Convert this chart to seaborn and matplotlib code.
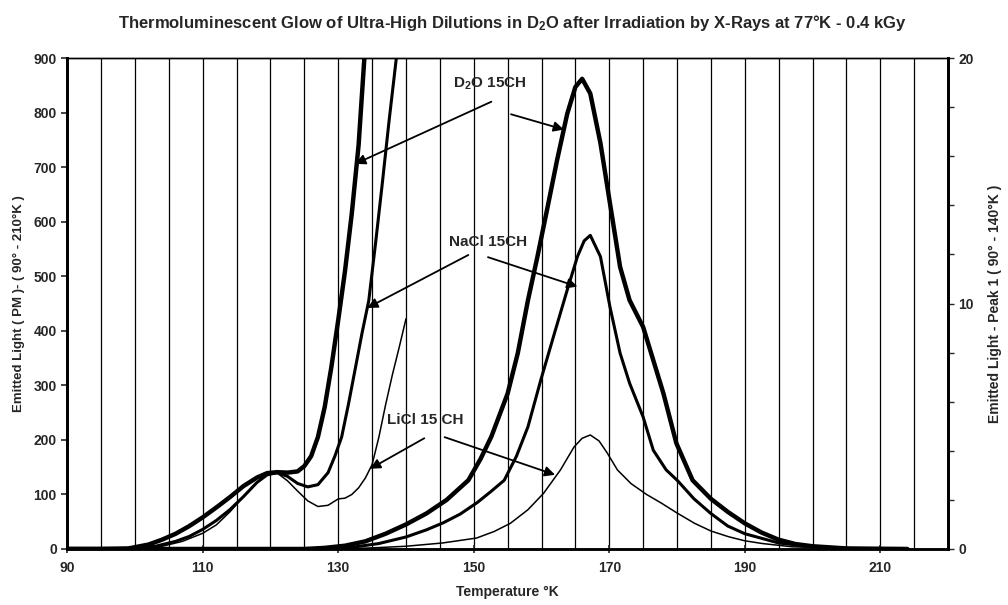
import numpy as np
import pandas as pd
import seaborn as sns
import matplotlib
matplotlib.use("Agg")
import matplotlib.pyplot as plt

# ---------------------------------------------------------------------------
# Data (temperature in K, light in axis units)
# ---------------------------------------------------------------------------
# main glow curves, left axis (90 - 210 K)
d2o_T = [90, 125, 128, 131, 134, 137, 140, 143, 146, 149.2, 151, 152.6, 155, 156.5,
         158, 159.4, 160.9, 162.3, 163.8, 165, 166, 167.2, 168.7, 170.1, 171.6, 173,
         175, 176.5, 178, 179.9, 182.3, 185, 187.5, 190, 192.5, 195, 197.5, 200, 205, 214]
d2o_L = [0, 0, 2, 6, 14, 28, 45, 65, 90, 126, 165, 206, 285, 359,
         456, 536, 627, 713, 798, 847, 862, 835, 744, 634, 517, 456,
         407, 346, 285, 194, 126, 92, 68, 47, 30, 17, 9, 5, 1, 0]

nacl_T = [90, 128, 132, 136, 140, 143, 145.5, 148, 150.5, 152.5, 154.5, 156.3, 158,
          159.9, 161.9, 163.8, 165.3, 166.3, 167.2, 168.7, 170.1, 171.6, 173, 175,
          176.5, 178.4, 180.1, 182.5, 185, 187.5, 190, 195, 200, 205, 214]
nacl_L = [0, 0, 3, 10, 22, 35, 48, 64, 85, 105, 126, 170, 224,
          310, 395, 475, 536, 565, 575, 536, 444, 359, 304, 242,
          181, 145, 125, 92, 65, 42, 28, 11, 4, 1, 0]

licl_T = [90, 130, 135, 140, 145.4, 150.4, 153, 155.4, 158, 160.3, 162.8, 164.8,
          166, 167.2, 168.5, 169.7, 171.2, 173.2, 175.5, 177.7, 180, 182.6, 185,
          187.6, 190, 192.6, 197, 205, 214]
licl_L = [0, 0, 2, 5, 11, 20, 32, 47, 72, 102, 145, 187,
          203, 209, 198, 176, 145, 120, 100, 84, 66, 47, 33,
          22.5, 15, 10, 4, 1, 0]

# peak 1 curves, right axis (90 - 140 K)
p1_d2o_T = [90, 95, 99, 102, 104, 106, 108, 110, 112, 114, 116, 118, 119.5, 121,
            122.5, 124, 125, 126, 127, 128, 129, 130, 131, 132, 133, 134]
p1_d2o_R = [0, 0, 0.02, 0.18, 0.38, 0.62, 0.93, 1.29, 1.69, 2.11, 2.56, 2.91, 3.09, 3.13,
            3.11, 3.16, 3.38, 3.78, 4.56, 5.78, 7.44, 9.33, 11.33, 13.67, 16.44, 20.6]

p1_nacl_T = [90, 96, 100, 103, 106, 108, 110, 112, 114, 116, 118, 119.5, 121, 122.5,
             124, 125.5, 127, 128.5, 129.5, 130.5, 131.5, 132.5, 133.5, 134.5, 135.5,
             136.5, 137.5, 138.7]
p1_nacl_R = [0, 0, 0.02, 0.11, 0.31, 0.51, 0.8, 1.16, 1.6, 2.13, 2.71, 3.02, 3.11, 2.96,
             2.67, 2.53, 2.62, 3.11, 3.78, 4.56, 5.89, 7.33, 8.78, 10.11, 12.44,
             14.89, 17.44, 20.3]

p1_licl_T = [90, 97, 101, 104, 107, 110, 112, 114, 116, 118, 119.5, 121, 122.5, 124,
             125.5, 127, 128.5, 130, 131, 132, 133, 134, 135, 136, 137, 138, 139, 140]
p1_licl_R = [0, 0, 0.02, 0.11, 0.31, 0.64, 0.98, 1.51, 2.13, 2.71, 3.04, 3.09, 2.78, 2.36,
             1.96, 1.73, 1.78, 2.04, 2.07, 2.22, 2.49, 2.89, 3.44, 4.56, 5.89, 7.11, 8.22, 9.38]

labels = ["D$_2$O 15CH", "NaCl 15CH", "LiCl 15 CH"]
label_xy = [(152.4, 853), (152.1, 563), (142.9, 236)]
# arrows: (tail, head) in left-axis coordinates
arrows = [((152.6, 820), (132.5, 706)), ((155.5, 797), (163.3, 769)),
          ((149.2, 539), (134.3, 442)), ((152.1, 535), (165.3, 481)),
          ((142.7, 203), (134.7, 147)), ((145.7, 205), (162.0, 136))]

# ---------------------------------------------------------------------------
sns.set_style("ticks")
plt.rcParams["font.family"] = ["Liberation Sans", "DejaVu Sans"]
plt.rcParams["font.weight"] = "bold"
plt.rcParams["mathtext.fontset"] = "custom"
plt.rcParams["mathtext.rm"] = "Liberation Sans:bold"
plt.rcParams["mathtext.bf"] = "Liberation Sans:bold"
plt.rcParams["mathtext.it"] = "Liberation Sans:bold"
plt.rcParams["mathtext.default"] = "rm"

fig = plt.figure(figsize=(10.08, 6.05), dpi=100)
ax = fig.add_axes([0.0667, 0.0926, 0.8738, 0.8114])
ax2 = ax.twinx()

main = [(d2o_T, d2o_L, 3.2), (nacl_T, nacl_L, 2.2), (licl_T, licl_L, 1.1)]
for T, L, lw in main:
    sns.lineplot(x=T, y=L, ax=ax, color="black", lw=lw, estimator=None, sort=False,
                 solid_joinstyle="round", solid_capstyle="round")

peak1 = [(p1_d2o_T, p1_d2o_R, 3.2), (p1_nacl_T, p1_nacl_R, 2.2), (p1_licl_T, p1_licl_R, 1.1)]
for T, R, lw in peak1:
    sns.lineplot(x=T, y=R, ax=ax2, color="black", lw=lw, estimator=None, sort=False,
                 solid_joinstyle="round", solid_capstyle="round")

ax.set_xlim(90, 220)
ax.set_ylim(0, 900)
ax2.set_ylim(0, 20)

ax.set_xticks(range(90, 211, 20))
ax.set_xticks(np.arange(95, 220, 5), minor=True)
ax.set_yticks(range(0, 901, 100))
ax.xaxis.grid(True, which="both", color="black", lw=0.9)
ax.yaxis.grid(False)
ax.tick_params(axis="x", which="minor", length=0)
ax.tick_params(axis="x", which="major", direction="inout", length=6, width=1.2,
               labelsize=10, pad=6)
ax.tick_params(axis="y", direction="out", length=4, width=1.2, labelsize=10)

ax2.set_yticks([0, 10, 20])
ax2.set_yticks(np.arange(0, 21, 2), minor=True)
ax2.tick_params(axis="y", which="both", direction="out", length=4, width=1.0, labelsize=10)
ax2.grid(False)

for a in (ax, ax2):
    a.spines["left"].set_linewidth(2)
    a.spines["bottom"].set_linewidth(1.8)
    a.spines["right"].set_linewidth(2)
    a.spines["top"].set_linewidth(1.0)
    for s in a.spines.values():
        s.set_color("black")

ax.set_xlabel("Temperature °K", fontsize=10, fontweight="bold", labelpad=7)
ax.set_ylabel("Emitted Light ( PM )- ( 90° - 210°K )", fontsize=9.5, fontweight="bold",
              labelpad=6)
ax2.set_ylabel("Emitted Light - Peak 1 ( 90° - 140°K )", fontsize=10, fontweight="bold",
               labelpad=10)

for txt, (x, y) in zip(labels, label_xy):
    ax.text(x, y, txt, fontsize=11, fontweight="bold", ha="center", va="center")
for tail, head in arrows:
    ax.annotate("", xy=head, xytext=tail,
                arrowprops=dict(arrowstyle="-|>", color="black", lw=1.3,
                                mutation_scale=15, shrinkA=0, shrinkB=0))

fig.suptitle("Thermoluminescent Glow of Ultra-High Dilutions in D$_2$O after Irradiation "
             "by X-Rays at 77°K - 0.4 kGy", fontsize=12, fontweight="bold", x=0.508, y=0.978)

fig.savefig("out.png", dpi=100, facecolor="white")
